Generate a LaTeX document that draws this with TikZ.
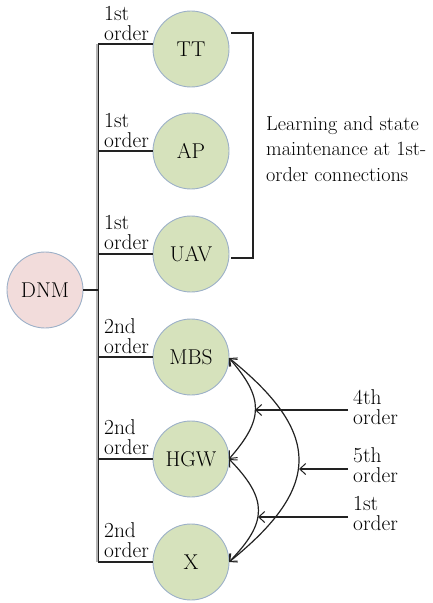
\documentclass[tikz,border=0pt]{standalone}
\usepackage{fontspec}
\usetikzlibrary{arrows.meta}
\definecolor{nodegreen}{HTML}{D6E2BC}
\definecolor{nodepink}{HTML}{F2DCDB}
\definecolor{rimblue}{HTML}{9CB0C8}
\definecolor{inkdark}{HTML}{222222}
\definecolor{busgray}{HTML}{B4B4B4}
\begin{document}
\begin{tikzpicture}[x=1bp,y=-1bp,
  font=\fontsize{21.5}{20.5}\selectfont,
  agent/.style={circle,draw=rimblue,line width=0.9bp,fill=nodegreen,minimum size=76bp,inner sep=0pt},
  hub/.style={agent,fill=nodepink},
  ordlabel/.style={align=left,anchor=south west,inner sep=0pt},
  link/.style={draw=inkdark,line width=1.2bp},
  tip/.style={-{Straight Barb[length=6bp,width=11bp,line width=1bp]}},
  bitip/.style={{Straight Barb[length=6bp,width=11bp,line width=1bp]}-{Straight Barb[length=6bp,width=11bp,line width=1bp]}},
]
\useasboundingbox (0,0) rectangle (432,603);

% agents
\node[agent] (TT)  at (191,49)  {TT};
\node[agent] (AP)  at (191,151) {AP};
\node[agent] (UAV) at (191,254) {UAV};
\node[agent] (MBS) at (191,357) {MBS};
\node[agent] (HGW) at (191,459) {HGW};
\node[agent] (X)   at (191,562) {X};
\node[hub]   (DNM) at (45,290)  {DNM};

% bus
\coordinate (bustop) at (98,44);
\coordinate (busbot) at (98,562);
\draw[busgray,line width=3bp] ([xshift=-1bp]bustop) -- ([xshift=-1bp]busbot);
\draw[link] ([xshift=0.5bp]bustop) -- ([xshift=0.5bp]busbot);
\draw[link] (DNM.east) -- (DNM.east -| bustop);

% branches to agents
\draw[link] (bustop) -- (bustop -| TT.west);
\foreach \n in {AP,UAV,MBS,HGW,X}
  \draw[link] (\n.west -| bustop) -- (\n.west);

% order labels
\node[ordlabel] at (104,41)  {1st\\order};
\node[ordlabel] at (104,148) {1st\\order};
\node[ordlabel] at (104,250) {1st\\order};
\node[ordlabel] at (104,354) {2nd\\order};
\node[ordlabel] at (104,455) {2nd\\order};
\node[ordlabel] at (104,558) {2nd\\order};

% bracket for 1st-order group
\coordinate (brTop) at (231,33);
\coordinate (brBot) at (231,258);
\draw[link] (brTop) -- ++(22,0) |- (brBot);
\node[align=left,anchor=west,inner sep=0pt,
      font=\fontsize{20.3}{26}\selectfont] (learn) at (266,149)
  {Learning and state\\maintenance at 1st-\\order connections};

% higher-order links between agents
\coordinate (pMBS) at (229,358);
\coordinate (pHGW) at (229,459);
\coordinate (pX)   at (229,562);
\draw[link,bitip] (pMBS) .. controls (264,398) and (264,419) .. (pHGW);
\draw[link,bitip] (pHGW) .. controls (268,499) and (268,522) .. (pX);
\draw[link,bitip] (pMBS) .. controls (322,433) and (322,487) .. (pX);

% incoming order arrows
\node[ordlabel,anchor=north west] (o4) at (353,389) {4th\\order};
\node[ordlabel,anchor=north west] (o5) at (353,447) {5th\\order};
\node[ordlabel,anchor=north west] (o1) at (353,496) {1st\\order};
\coordinate (a4) at (348,410);
\coordinate (a5) at (348,469);
\coordinate (a1) at (348,517);
\draw[link,tip] (a4) -- (255,410);
\draw[link,tip] (a5) -- (299,469);
\draw[link,tip] (a1) -- (258,517);
\end{tikzpicture}
\end{document}
